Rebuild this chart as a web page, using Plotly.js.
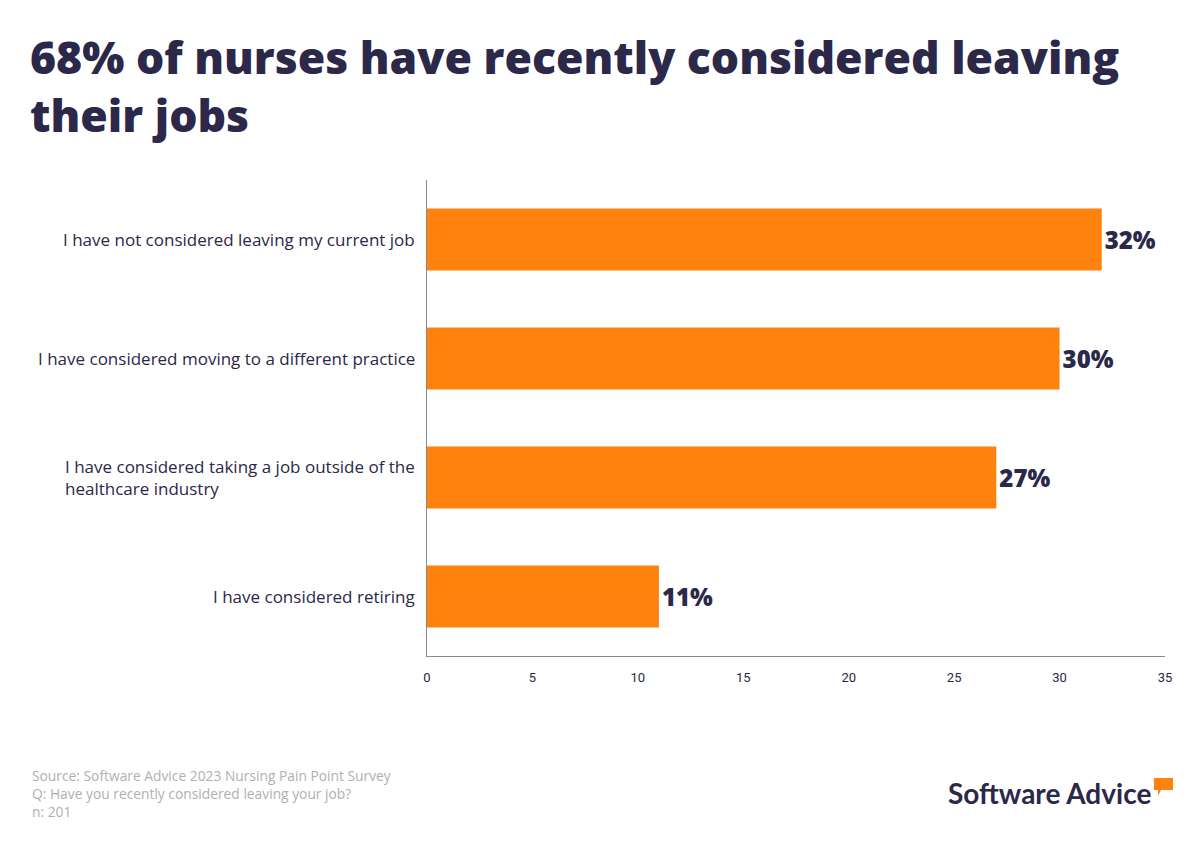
<!DOCTYPE html>
<html><head><meta charset="utf-8">
<script src="https://cdn.plot.ly/plotly-3.0.1.min.js"></script>
<style>body{margin:0;background:#fff}#chart{width:1200px;height:850px}</style>
</head><body><div id="chart"></div>
<script>
const categories = [
  "I have not considered leaving my current job",
  "I have considered moving to a different practice",
  "I have considered taking a job outside of the<br>healthcare industry",
  "I have considered retiring"
];
const values = [32, 30, 27, 11];
const valueLabels = ["32%", "30%", "27%", "11%"];
const xTicks = [0, 5, 10, 15, 20, 25, 30, 35];
const titleText = "68% of nurses have recently considered leaving<br>their jobs";

const dark = "#2b2849";
const orange = "#ff820f";
const bodyFont = "'Open Sans', Lato, sans-serif";

const trace = {
  type: "bar", orientation: "h",
  x: values, y: categories,
  marker: {color: orange},
  width: 0.52,
  text: valueLabels, textposition: "outside",
  textfont: {family: bodyFont, size: 24, color: dark, weight: 800},
  cliponaxis: false, hoverinfo: "none"
};

const catAnnotations = categories.map(c => ({
  xref: "x", yref: "y", x: 0, y: c, xanchor: "right", yanchor: "middle",
  xshift: -10, align: "left", showarrow: false, text: c,
  font: {family: bodyFont, size: 17, color: dark}
}));

const layout = {
  width: 1200, height: 850,
  paper_bgcolor: "#fff", plot_bgcolor: "#fff",
  margin: {l: 427, r: 35, t: 180, b: 194},
  showlegend: false,
  font: {family: bodyFont, color: dark},
  xaxis: {
    range: [0, 35], tickvals: xTicks, ticktext: xTicks.map(String),
    showgrid: false, zeroline: false, showline: true, linecolor: "#8a8a8a", linewidth: 1,
    ticks: "", ticklabelstandoff: 9, tickfont: {family: "Roboto, sans-serif", size: 13, color: dark},
    fixedrange: true
  },
  yaxis: {
    autorange: "reversed", showgrid: false, zeroline: false,
    showline: true, linecolor: "#8a8a8a", linewidth: 1,
    showticklabels: false, ticks: "",
    fixedrange: true
  },
  annotations: catAnnotations.concat([
    {xref: "paper", yref: "paper", x: -0.5407, y: 1.328, xanchor: "left", yanchor: "top", align: "left",
     showarrow: false, text: titleText,
     font: {family: bodyFont, size: 44.5, color: dark, weight: 800}},
    {xref: "paper", yref: "paper", x: -0.538, y: -0.226, xanchor: "left", yanchor: "top", align: "left",
     showarrow: false,
     text: "Source: Software Advice 2023 Nursing Pain Point Survey<br>Q: Have you recently considered leaving your job?<br>n: 201",
     font: {family: bodyFont, size: 13.8, color: "#b0b0b0"}},
    {xref: "paper", yref: "paper", x: 0.9837, y: -0.2878, xanchor: "right", yanchor: "middle",
     showarrow: false, text: "<b>Software Advice</b>",
     font: {family: "Lato, sans-serif", size: 28, color: dark, weight: 900}}
  ]),
  shapes: [
    {type: "path", xref: "paper", yref: "paper",
     path: "M 0.985 -0.2563 L 1.0109 -0.2563 L 1.0109 -0.2815 L 0.9945 -0.2815 L 0.9905 -0.294 L 0.9905 -0.2815 L 0.985 -0.2815 Z",
     fillcolor: orange, line: {width: 0}}
  ]
};

Plotly.newPlot("chart", [trace], layout, {displayModeBar: false, staticPlot: true});
</script></body></html>
